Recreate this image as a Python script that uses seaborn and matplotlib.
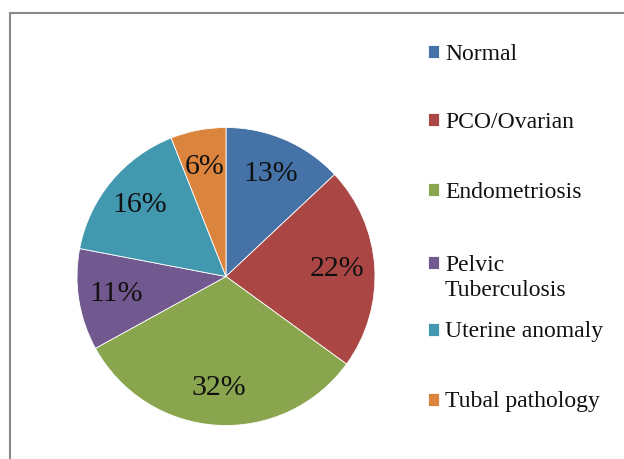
import matplotlib
matplotlib.use("Agg")
import matplotlib.pyplot as plt
import matplotlib.patches as mpatches
from matplotlib.legend_handler import HandlerPatch
import seaborn as sns

# data
causes = ["Normal", "PCO/Ovarian", "Endometriosis", "Pelvic\nTuberculosis",
          "Uterine anomaly", "Tubal pathology"]
percent = [13, 22, 32, 11, 16, 6]
colors = ["#4572A7", "#AA4643", "#89A54E", "#71588F", "#4198AF", "#DB843D"]

sns.set_style("white")
plt.rcParams['font.family'] = ['Liberation Serif', 'DejaVu Serif']

W, H = 624, 459
fig = plt.figure(figsize=(W / 100, H / 100), dpi=100)

# pie centre (226, 276) px, radius 149 px
cx, cy, r = 226, 276.5, 149
ax = fig.add_axes([(cx - r) / W, (H - cy - r) / H, 2 * r / W, 2 * r / H])

wedges, texts, autotexts = ax.pie(
    percent, colors=colors, startangle=90, counterclock=False,
    autopct=lambda p: f"{p:.0f}%", pctdistance=0.75,
    wedgeprops=dict(edgecolor="white", linewidth=0.6),
    textprops=dict(fontsize=21.5, color="#111111"))
ax.set_xlim(-1, 1)
ax.set_ylim(-1, 1)
ax.set_aspect("equal")
ax.axis("off")

# legend: one entry per slot so the spacing follows the reference
fs = 17
ls = 1.25
slot_y = [54, 122, 192, 278, 332, 402]


def first_line_patch(legend, orig_handle, xdescent, ydescent, width, height, fontsize):
    # marker sits next to the first line of a two-line label
    return mpatches.Rectangle((-xdescent, -ydescent + 0.5 * ls * fontsize), width, height)


for w, lab, y in zip(wedges, causes, slot_y):
    hmap = {}
    if "\n" in lab:
        hmap = {type(w): HandlerPatch(patch_func=first_line_patch)}
    leg = fig.legend([w], [lab], loc="center left",
                     bbox_to_anchor=(428 / W, 1 - y / H),
                     frameon=False, fontsize=fs, handlelength=0.47,
                     handleheight=0.47, handletextpad=0.25,
                     borderaxespad=0, borderpad=0, handler_map=hmap)
    for t in leg.get_texts():
        t.set_color("#111111")
        t.set_linespacing(ls)

# chart-area border
fig.patches.append(mpatches.Rectangle(
    (10 / W, -0.05), 1.1, 1 - 13 / H + 0.05, transform=fig.transFigure,
    fill=False, edgecolor="#8a8a8a", linewidth=1.5))

fig.savefig("out.png", dpi=100)
